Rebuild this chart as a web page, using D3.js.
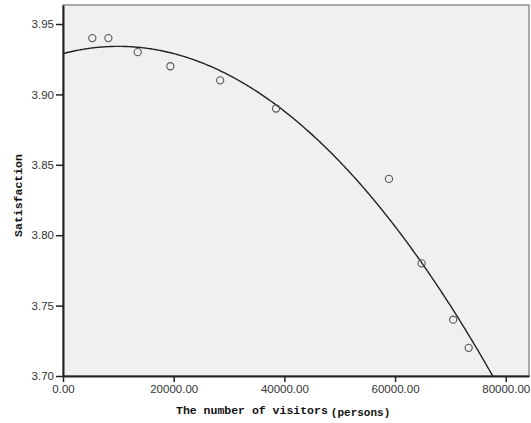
<!DOCTYPE html>
<html><head><meta charset="utf-8">
<script src="https://cdn.jsdelivr.net/npm/d3@7"></script>
<style>body{margin:0;background:#fff}</style>
</head><body>
<svg id="c" width="531" height="423"></svg>
<script>
const visitors = [5300, 8200, 13500, 19400, 28400, 38500, 58900, 64800, 70500, 73300];
const satisfaction = [3.94, 3.94, 3.93, 3.92, 3.91, 3.89, 3.84, 3.78, 3.74, 3.72];
const fitCoef = [3.929, 1.023e-6, -5.116e-11]; // quadratic fit: a + b x + c x^2
const xTicks = [0, 20000, 40000, 60000, 80000];
const yTicks = [3.70, 3.75, 3.80, 3.85, 3.90, 3.95];
const xTitle = "The number of visitors";
const xTitleUnit = "(persons)";
const yTitle = "Satisfaction";

const svg = d3.select("#c");
const L = 63, R = 529, T = 5, B = 376;
const x = d3.scaleLinear().domain([0, 84200]).range([L, R]);
const y = d3.scaleLinear().domain([3.70, 3.9635]).range([B, T]);

svg.append("rect").attr("x", L).attr("y", T).attr("width", R - L).attr("height", B - T)
  .attr("fill", "#f0f0f0").attr("stroke", "#777").attr("stroke-width", 1.2);

svg.append("clipPath").attr("id", "pc").append("rect")
  .attr("x", L).attr("y", T).attr("width", R - L).attr("height", B - T);

// fit curve
const xs = d3.range(0, 84201, 200);
const fitLine = d3.line().x(d => x(d)).y(d => y(fitCoef[0] + fitCoef[1] * d + fitCoef[2] * d * d));
svg.append("path").attr("d", fitLine(xs)).attr("clip-path", "url(#pc)")
  .attr("fill", "none").attr("stroke", "#222").attr("stroke-width", 1.4);

// points
svg.append("g").selectAll("circle").data(visitors).join("circle")
  .attr("cx", d => x(d)).attr("cy", (d, i) => y(satisfaction[i])).attr("r", 3.6)
  .attr("fill", "none").attr("stroke", "#555").attr("stroke-width", 1.1);

// axes
const xAxis = svg.append("g").attr("transform", `translate(0,${B})`)
  .call(d3.axisBottom(x).tickValues(xTicks).tickFormat(d3.format(".2f")).tickSize(6).tickSizeOuter(0));
const yAxis = svg.append("g").attr("transform", `translate(${L},0)`)
  .call(d3.axisLeft(y).tickValues(yTicks).tickFormat(d3.format(".2f")).tickSize(7).tickSizeOuter(0));
[xAxis, yAxis].forEach(a => {
  a.select(".domain").attr("stroke", "#222").attr("stroke-width", 2);
  a.selectAll(".tick line").attr("stroke", "#222").attr("stroke-width", 1.5);
  a.selectAll("text").attr("fill", "#333").style("font-family", "'Liberation Sans', Arial, sans-serif").style("font-size", "11.5px");
});
xAxis.selectAll("text").attr("dy", "0.71em").attr("y", 9);
yAxis.selectAll("text").attr("x", -9);

// titles
const xt = svg.append("text").attr("x", 176).attr("y", 414)
  .style("font-family", "'Liberation Mono', 'DejaVu Sans Mono', monospace").style("font-weight", "bold")
  .style("font-size", "11.5px").attr("fill", "#111");
xt.append("tspan").text(xTitle);
xt.append("tspan").attr("dx", 3).attr("dy", 2).style("font-size", "11px").text(xTitleUnit);

svg.append("text").attr("transform", `translate(22,${(T + B) / 2 + 5}) rotate(-90)`)
  .attr("text-anchor", "middle")
  .style("font-family", "'Liberation Mono', 'DejaVu Sans Mono', monospace").style("font-weight", "bold")
  .style("font-size", "11.5px").attr("fill", "#111").text(yTitle);
</script>
</body></html>
